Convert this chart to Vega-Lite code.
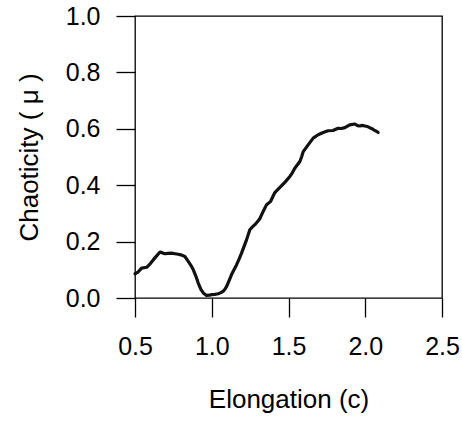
{
  "$schema": "https://vega.github.io/schema/vega-lite/v6.json",
  "width": 307,
  "height": 282,
  "autosize": "none",
  "padding": {"left": 135, "top": 16, "right": 20, "bottom": 126},
  "background": "white",
  "config": {
    "view": {"stroke": "black", "strokeWidth": 1.3},
    "font": "Liberation Sans",
    "axis": {
      "grid": false,
      "domain": false,
      "tickColor": "black",
      "tickWidth": 1.3,
      "tickSize": 19,
      "labelColor": "black",
      "labelFontSize": 25,
      "labelFont": "Liberation Sans",
      "titleColor": "black",
      "titleFont": "Liberation Sans",
      "titleFontSize": 26,
      "titleFontWeight": "normal",
      "labelFlush": false,
      "labelOverlap": false
    }
  },
  "data": {
    "values": [
      {"c": 0.500, "mu": 0.086},
      {"c": 0.520, "mu": 0.092},
      {"c": 0.543, "mu": 0.106},
      {"c": 0.576, "mu": 0.109},
      {"c": 0.600, "mu": 0.122},
      {"c": 0.620, "mu": 0.136},
      {"c": 0.645, "mu": 0.152},
      {"c": 0.663, "mu": 0.163},
      {"c": 0.680, "mu": 0.160},
      {"c": 0.695, "mu": 0.157},
      {"c": 0.715, "mu": 0.158},
      {"c": 0.739, "mu": 0.159},
      {"c": 0.760, "mu": 0.157},
      {"c": 0.782, "mu": 0.155},
      {"c": 0.805, "mu": 0.152},
      {"c": 0.825, "mu": 0.147},
      {"c": 0.847, "mu": 0.130},
      {"c": 0.865, "mu": 0.115},
      {"c": 0.880, "mu": 0.100},
      {"c": 0.897, "mu": 0.077},
      {"c": 0.912, "mu": 0.053},
      {"c": 0.930, "mu": 0.030},
      {"c": 0.945, "mu": 0.018},
      {"c": 0.966, "mu": 0.009},
      {"c": 0.985, "mu": 0.010},
      {"c": 0.999, "mu": 0.012},
      {"c": 1.020, "mu": 0.013},
      {"c": 1.042, "mu": 0.015},
      {"c": 1.060, "mu": 0.019},
      {"c": 1.075, "mu": 0.024},
      {"c": 1.087, "mu": 0.032},
      {"c": 1.097, "mu": 0.041},
      {"c": 1.113, "mu": 0.062},
      {"c": 1.129, "mu": 0.083},
      {"c": 1.145, "mu": 0.100},
      {"c": 1.162, "mu": 0.118},
      {"c": 1.178, "mu": 0.138},
      {"c": 1.194, "mu": 0.159},
      {"c": 1.210, "mu": 0.182},
      {"c": 1.227, "mu": 0.207},
      {"c": 1.248, "mu": 0.242},
      {"c": 1.265, "mu": 0.252},
      {"c": 1.281, "mu": 0.260},
      {"c": 1.300, "mu": 0.272},
      {"c": 1.313, "mu": 0.281},
      {"c": 1.335, "mu": 0.307},
      {"c": 1.357, "mu": 0.331},
      {"c": 1.383, "mu": 0.342},
      {"c": 1.397, "mu": 0.358},
      {"c": 1.411, "mu": 0.374},
      {"c": 1.444, "mu": 0.392},
      {"c": 1.476, "mu": 0.410},
      {"c": 1.509, "mu": 0.431},
      {"c": 1.525, "mu": 0.444},
      {"c": 1.541, "mu": 0.460},
      {"c": 1.574, "mu": 0.484},
      {"c": 1.585, "mu": 0.500},
      {"c": 1.596, "mu": 0.519},
      {"c": 1.628, "mu": 0.543},
      {"c": 1.661, "mu": 0.567},
      {"c": 1.693, "mu": 0.579},
      {"c": 1.726, "mu": 0.587},
      {"c": 1.758, "mu": 0.593},
      {"c": 1.790, "mu": 0.594},
      {"c": 1.823, "mu": 0.602},
      {"c": 1.845, "mu": 0.601},
      {"c": 1.867, "mu": 0.604},
      {"c": 1.899, "mu": 0.614},
      {"c": 1.932, "mu": 0.617},
      {"c": 1.950, "mu": 0.611},
      {"c": 1.964, "mu": 0.610},
      {"c": 1.980, "mu": 0.612},
      {"c": 1.997, "mu": 0.610},
      {"c": 2.015, "mu": 0.608},
      {"c": 2.029, "mu": 0.604},
      {"c": 2.045, "mu": 0.600},
      {"c": 2.062, "mu": 0.594},
      {"c": 2.084, "mu": 0.587}
    ]
  },
  "mark": {"type": "line", "color": "#111111", "strokeWidth": 3.2, "strokeJoin": "round", "strokeCap": "round"},
  "encoding": {
    "x": {
      "field": "c",
      "type": "quantitative",
      "scale": {"domain": [0.5, 2.5], "nice": false, "zero": false},
      "axis": {
        "title": "Elongation (c)",
        "values": [0.5, 1.0, 1.5, 2.0, 2.5],
        "format": ".1f",
        "labelPadding": 17,
        "titlePadding": 27
      }
    },
    "y": {
      "field": "mu",
      "type": "quantitative",
      "scale": {"domain": [0, 1], "nice": false},
      "axis": {
        "title": "Chaoticity ( μ )",
        "values": [0, 0.2, 0.4, 0.6, 0.8, 1.0],
        "format": ".1f",
        "labelPadding": 16,
        "titlePadding": 23
      }
    }
  }
}
